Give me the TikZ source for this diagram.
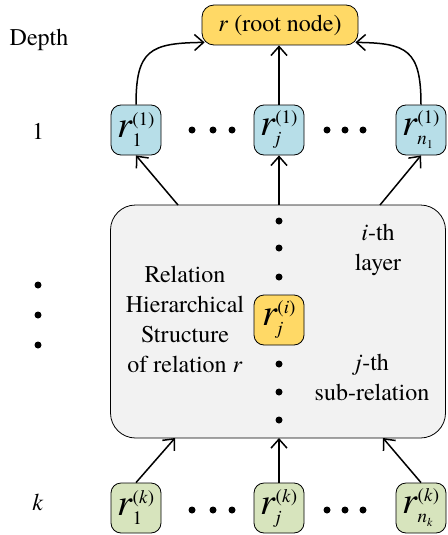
\documentclass[tikz,border=0pt]{standalone}
\usepackage{fontspec}
\setmainfont{texgyretermes}[Extension=.otf, UprightFont=*-regular, ItalicFont=*-italic, BoldFont=*-bold, BoldItalicFont=*-bolditalic]
\usetikzlibrary{arrows.meta}
\definecolor{gold}{HTML}{FFD966}
\definecolor{lblue}{HTML}{B7DEE8}
\definecolor{lgreen}{HTML}{D7E4BD}
\definecolor{lgray}{HTML}{F2F2F2}
\newcommand\rlab[2]{{\fontsize{38}{38}\selectfont\itshape r}{\fontsize{19}{19}\selectfont\rlap{\raisebox{-9pt}{#1}}\raisebox{12pt}{#2}}}
\begin{document}
\begin{tikzpicture}[x=1pt,y=-1pt,
  every node/.style={font=\rmfamily\fontsize{24}{30}\selectfont},
  rbox/.style={draw=black, line width=0.8pt, rounded corners=10pt, minimum width=50pt, minimum height=50pt, inner sep=0pt},
  arr/.style={line width=1.5pt, -{Straight Barb[length=9pt,width=16pt,line width=1.5pt]}},
  dotn/.style={circle, fill=black, inner sep=0pt, minimum size=7pt}]
\useasboundingbox (0,0) rectangle (447,535);
% big box
\node[draw, fill=lgray, rounded corners=25pt, minimum width=335pt, minimum height=233pt, line width=0.8pt] (box) at (278,321.5) {};
% root
\node[rbox, fill=gold, minimum width=156pt, minimum height=40pt, rounded corners=12pt] (root) at (280,25) {\textit{r} (root node)};
% depth 1
\node[rbox, fill=lblue] (b1) at (136,130) {\rlab{1}{(1)}};
\node[rbox, fill=lblue] (bj) at (279,130) {\rlab{\textit{j}}{(1)}};
\node[rbox, fill=lblue] (bn) at (421,130) {\rlab{\textit{n}\raisebox{-4pt}{\fontsize{12}{12}\selectfont 1}}{(1)}};
% depth k
\node[rbox, fill=lgreen] (g1) at (136,508) {\rlab{1}{(\textit{k})}};
\node[rbox, fill=lgreen] (gj) at (279,508) {\rlab{\textit{j}}{(\textit{k})}};
\node[rbox, fill=lgreen] (gn) at (421,508) {\rlab{\textit{n}\raisebox{-4pt}{\fontsize{12}{12}\selectfont\textit{k}}}{(\textit{k})}};
% middle
\node[rbox, fill=gold] (ri) at (279,320) {\rlab{\textit{j}}{(\textit{i})}};
% labels
\node (depth) at (39,40) {Depth};
\node (one) at (38,131) {1};
\node (kk) at (38,502) {\textit{k}};
\node[align=center] (rel) at (185,319) {Relation\\Hierarchical\\Structure\\of relation \textit{r}};
\node[align=center] (ith) at (378,250) {\textit{i}-th\\layer};
\node[align=center] (jth) at (372,377) {\textit{j}-th\\sub-relation};
% dots
\foreach \y [count=\i] in {285,315,345} \node[dotn] (ld\i) at (38,\y) {};
\foreach \x [count=\i] in {192,213,232,327,345,363} {
  \node[dotn] (bd\i) at (\x,130) {};
  \node[dotn] (gd\i) at (\x,510) {};
}
\foreach \y [count=\i] in {221,248,277,364,392,420} \node[dotn] (vd\i) at (279,\y) {};
% connectors
\coordinate (t1) at (178,205);
\coordinate (tj) at (279,205);
\coordinate (tn) at (380,205);
\coordinate (u1) at (175,438);
\coordinate (uj) at (279,438);
\coordinate (un) at (383,438);
\draw[arr] (bj.north) -- (bj.north |- root.south);
\draw[arr] (b1.north) .. controls (136,50) and (150,43) .. ([shift={(3,-3)}]root.south west);
\draw[arr] (bn.north) .. controls (421,50) and (407,43) .. ([shift={(-3,-3)}]root.south east);
\draw[arr] (t1) -- (b1.south);
\draw[arr] (tj) -- (bj.south);
\draw[arr] (tn) -- (bn.south);
\draw[arr] (g1.north) -- (u1);
\draw[arr] (gj.north) -- (uj);
\draw[arr] (gn.north) -- (un);
\end{tikzpicture}
\end{document}
